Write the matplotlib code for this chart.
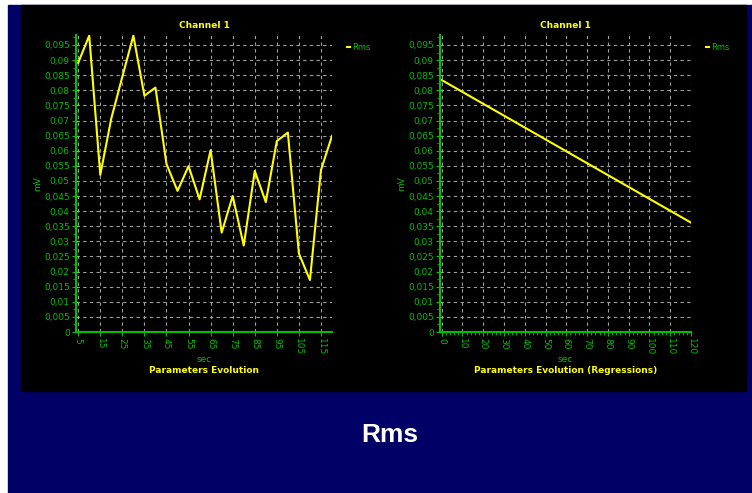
import numpy as np
import matplotlib
matplotlib.use('Agg')
from matplotlib import pyplot as plt
from matplotlib.ticker import MultipleLocator, FuncFormatter
from matplotlib.patches import Rectangle

# データ (Channel 1, Rms)
sec = [5, 10, 15, 20, 25, 30, 35, 40, 45, 50, 55, 60,
       65, 70, 75, 80, 85, 90, 95, 100, 105, 110, 115, 120]
rms = [0.0891, 0.0981, 0.0520, 0.0707, 0.0845, 0.0981, 0.0782, 0.0809,
       0.0556, 0.0467, 0.0549, 0.0439, 0.0602, 0.0329, 0.0450, 0.0286,
       0.0533, 0.0430, 0.0632, 0.0660, 0.0260, 0.0172, 0.0536, 0.0649]

# 回帰直線の端点
reg_sec = [0, 120]
reg_rms = [0.0834, 0.0362]

title_txt = "Channel 1"
sub_left = "Parameters Evolution"
sub_right = "Parameters Evolution (Regressions)"
caption = "Rms"

GREEN = '#00c000'
YELLOW = '#ffff00'
NAVY = '#000066'

W, H = 752, 493
fig = plt.figure(figsize=(W / 100, H / 100), dpi=100)
fig.patch.set_facecolor('white')

# 背景: 紺色と黒いパネル
fig.patches.append(Rectangle((8 / W, 0), (W - 8) / W, (H - 5) / H,
                             transform=fig.transFigure, color=NAVY, zorder=-2))
fig.patches.append(Rectangle((21 / W, (H - 391) / H), (746 - 21) / W, (391 - 5) / H,
                             transform=fig.transFigure, color='black', zorder=-1))

comma = FuncFormatter(lambda v, p: ('%g' % round(v, 3)).replace('.', ','))


def setup(ax, xlim, xmajor, xminor, subtitle):
    ax.set_facecolor('black')
    ax.set_xlim(*xlim)
    ax.set_ylim(0, 0.0983)
    ax.set_xticks(np.arange(xmajor[0], xlim[1] + 0.1, xmajor[1]))
    if xminor:
        ax.xaxis.set_minor_locator(MultipleLocator(xminor))
    ax.yaxis.set_major_locator(MultipleLocator(0.005))
    ax.yaxis.set_minor_locator(MultipleLocator(0.0025))
    ax.yaxis.set_major_formatter(comma)
    for s in ['top', 'right']:
        ax.spines[s].set_visible(False)
    for s in ['left', 'bottom']:
        ax.spines[s].set_color(GREEN)
        ax.spines[s].set_linewidth(1.5)
    ax.tick_params(colors=GREEN, labelsize=6.5, length=3, width=0.8, pad=1.5)
    ax.tick_params(which='minor', colors=GREEN, length=2, width=0.6)
    for lab in ax.get_xticklabels():
        lab.set_rotation(-90)
    ax.grid(True, color='#a0a0a0', linestyle=(0, (3, 3)), linewidth=0.8)
    ax.set_axisbelow(True)
    ax.set_title(title_txt, color=YELLOW, fontsize=6.5, fontweight='bold', pad=5)
    ax.set_xlabel('sec', color=GREEN, fontsize=6.5, labelpad=0)
    ax.set_ylabel('mV', color=GREEN, fontsize=6.5, labelpad=1)
    ax.text(0.5, -0.114, subtitle, transform=ax.transAxes, ha='center', va='top',
            color=YELLOW, fontsize=6.5, fontweight='bold')
    leg = ax.legend(loc='upper left', bbox_to_anchor=(1.045, 0.985), frameon=False,
                    fontsize=6, handlelength=0.4, handletextpad=0.2,
                    borderaxespad=0)
    for t in leg.get_texts():
        t.set_color(GREEN)


ax1 = fig.add_axes([76 / W, (H - 332) / H, 256 / W, 297 / H])
ax1.plot(sec, rms, color=YELLOW, linewidth=1.5, label='Rms')
setup(ax1, (4, 120), (5, 10), None, sub_left)

ax2 = fig.add_axes([440 / W, (H - 332) / H, 251 / W, 297 / H])
ax2.plot(reg_sec, reg_rms, color=YELLOW, linewidth=1.5, label='Rms')
setup(ax2, (-0.8, 120), (0, 10), 2, sub_right)

fig.text(390 / W, (H - 435) / H, caption, color='white', fontsize=19,
         fontweight='bold', ha='center', va='center', family='Liberation Sans')

fig.savefig('out.png', dpi=100, facecolor=fig.get_facecolor())
